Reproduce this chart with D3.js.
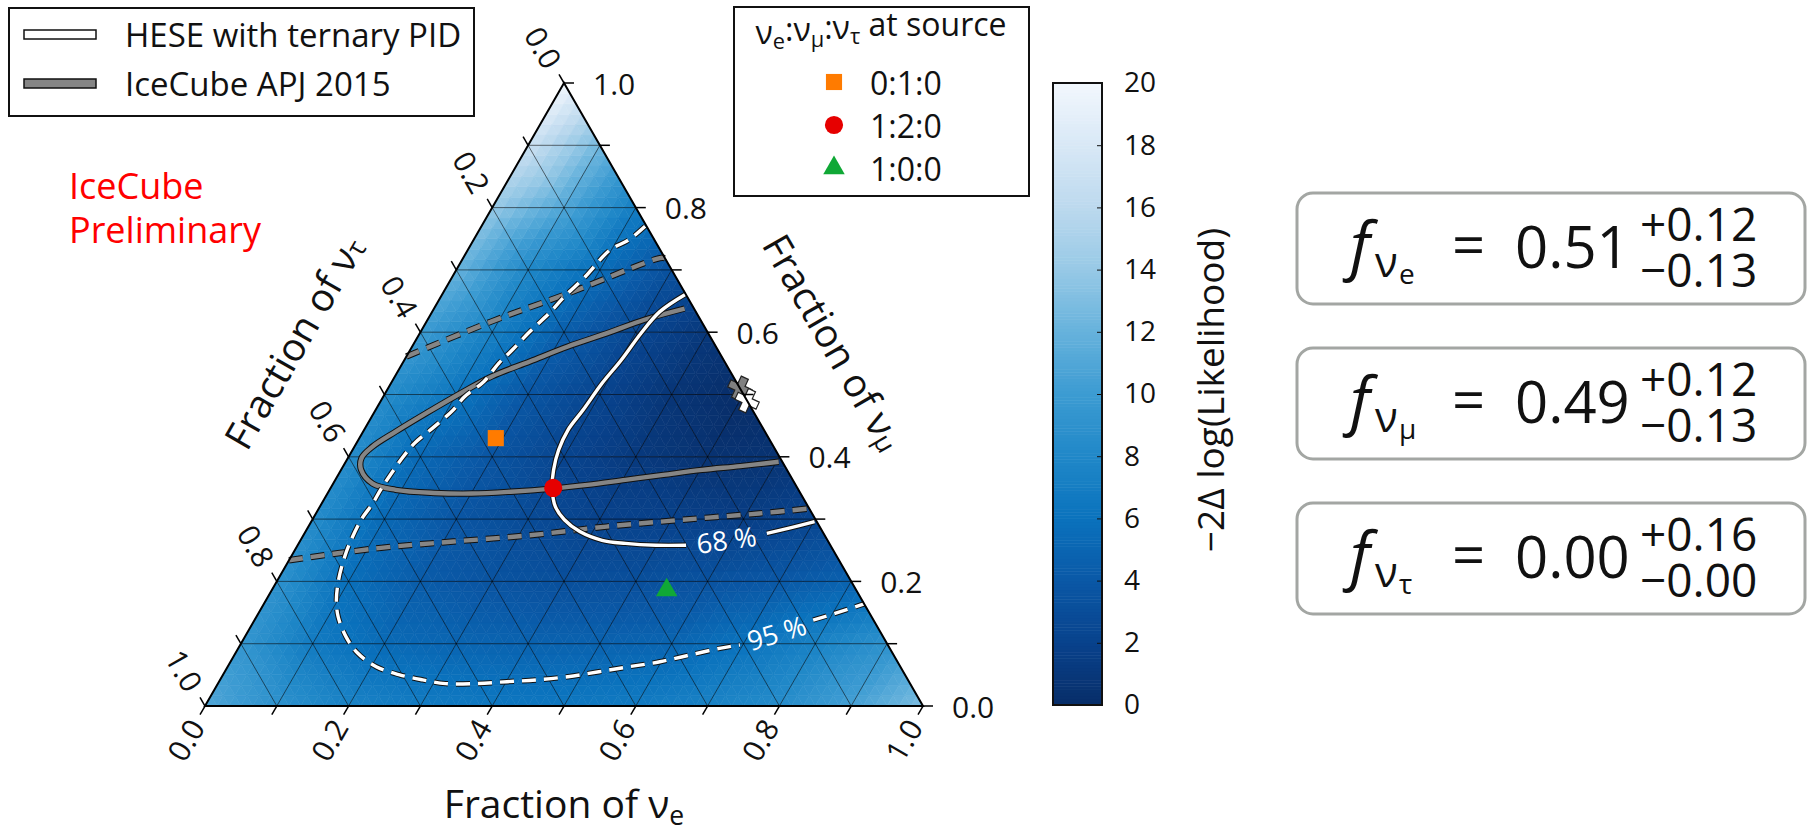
<!DOCTYPE html>
<html>
<head>
<meta charset="utf-8">
<script src="https://cdn.jsdelivr.net/npm/d3@7"></script>
<style>
body { margin:0; background:#fff; }
svg { display:block; font-family:"Open Sans", sans-serif; }
</style>
</head>
<body>
<svg id="chart" width="1812" height="835"></svg>
<script>
// ternary axis ticks (every 0.1) and labelled values (every 0.2)
const ternTicks = [0, 0.1, 0.2, 0.3, 0.4, 0.5, 0.6, 0.7, 0.8, 0.9, 1.0];
const ternLabelVals = [0, 0.2, 0.4, 0.6, 0.8, 1.0];

// -2 dLLH read at grid nodes; row = f_mu (0..1), entry = f_e (0..1-f_mu)
const llhRows = [
  [11, 9, 7.5, 6.8, 6.5, 6.5, 6.8, 7.5, 8.5, 10.5, 13],
  [9.5, 6.8, 5.4, 5.0, 4.8, 4.8, 5.0, 6.1, 7.5, 9],
  [9, 5.8, 4.3, 3.6, 3.2, 3.2, 3.5, 4.0, 4.8],
  [8.5, 5.3, 3.8, 2.8, 2.0, 1.9, 1.6, 2.2],
  [8.5, 5.3, 3.7, 2.2, 1.2, 0.5, 0.6],
  [8.5, 6.3, 3.8, 2.2, 0.8, 0.0],
  [10, 7.3, 4.5, 2.4, 1.0],
  [12, 8, 5.6, 3.3],
  [14, 11, 7],
  [17, 12.5],
  [20]
];

// colour bar
const cbarTicks = [0, 2, 4, 6, 8, 10, 12, 14, 16, 18, 20];
const cbarColors = ["#082d68","#08428c","#0a58a6","#0a72bd","#2088c8","#3c9bd2","#66b2dc","#97c9e6","#bcd9ee","#d8e8f6","#f2f7fd"];

// contours as [f_e, f_mu]; null = gap for the inline label
const hese68 = [[0.339,0.661],[0.317,0.633],[0.308,0.598],[0.302,0.555],[0.294,0.518],[0.289,0.475],
  [0.284,0.443],[0.287,0.411],[0.296,0.379],[0.309,0.349],[0.328,0.320],[0.351,0.299],[0.382,0.280],
  [0.420,0.266],[0.455,0.261],[0.499,0.258],[0.541,0.258],null,[0.644,0.277],[0.672,0.286],[0.701,0.296]];
const hese95 = [[0.228,0.770],[0.216,0.748],[0.198,0.732],[0.185,0.689],[0.172,0.657],[0.164,0.630],
  [0.152,0.601],[0.142,0.571],[0.134,0.550],[0.128,0.521],[0.113,0.496],[0.108,0.475],[0.095,0.448],
  [0.081,0.422],[0.076,0.400],[0.073,0.374],[0.071,0.347],[0.071,0.325],[0.068,0.299],[0.071,0.261],
  [0.076,0.234],[0.085,0.202],[0.098,0.170],[0.114,0.143],[0.141,0.111],[0.170,0.085],[0.207,0.063],
  [0.246,0.050],[0.282,0.042],[0.317,0.036],[0.359,0.036],[0.401,0.039],[0.442,0.042],[0.482,0.047],
  [0.521,0.055],[0.559,0.063],[0.598,0.071],[0.635,0.082],[0.672,0.093],[0.696,0.098],null,
  [0.778,0.138],[0.804,0.149],[0.836,0.164]];
const apj68 = [[0.349,0.638],[0.302,0.620],[0.260,0.598],[0.217,0.577],[0.176,0.553],[0.135,0.529],
  [0.105,0.502],[0.073,0.470],[0.045,0.440],[0.025,0.416],[0.019,0.398],[0.028,0.379],[0.055,0.357],
  [0.092,0.347],[0.148,0.342],[0.201,0.341],[0.254,0.344],[0.309,0.349],[0.355,0.355],[0.404,0.363],
  [0.453,0.371],[0.503,0.379],[0.553,0.385],[0.603,0.392]];
const apj95Upper = [[0.0,0.561],[0.090,0.617],[0.174,0.662],[0.274,0.719],[0.281,0.719]];
const apj95Lower = [[0.0,0.234],[0.112,0.253],[0.214,0.264],[0.315,0.274],[0.415,0.288],[0.516,0.299],[0.617,0.309],[0.683,0.317]];

// source compositions and their flavour ratio at Earth
const sourceRatios = ["0:1:0", "1:2:0", "1:0:0"];
const sourceAtEarth = [[0.19, 0.43], [0.31, 0.35], [0.55, 0.186]];
const sourceColors = ["#ff7b00", "#e60000", "#10a836"];
const sourceShapes = [d3.symbolSquare, d3.symbolCircle, d3.symbolTriangle];

// best fits
const heseBest = [0.51, 0.49];
const apjBest = [0.49, 0.51];

// fit results
const fitFlavours = ["e", "μ", "τ"];
const fitCentral = [0.51, 0.49, 0.00];
const fitUp = [0.12, 0.12, 0.16];
const fitDown = [0.13, 0.13, 0.00];

const svg = d3.select("#chart");
const xs = d3.scaleLinear().domain([0, 1]).range([205, 923]);
const ys = d3.scaleLinear().domain([0, 1]).range([706, 83]);
const pt = (fe, fm) => [xs(fe + fm / 2), ys(fm)];
const color = d3.scaleLinear().domain(cbarTicks).range(cbarColors).clamp(true);
const fmt1 = d3.format(".1f"), fmt2 = d3.format(".2f");

// heatmap: each 0.1 cell split in small triangles, shaded from its corner values
const N = 10, SUB = 6;
const nodeVal = (j, i) => llhRows[i][j];
const parents = [];
for (let i = 0; i < N; i++) {
  for (let j = 0; j < N - i; j++) {
    parents.push([[j, i], [j + 1, i], [j, i + 1]]);
    if (j < N - i - 1) parents.push([[j + 1, i], [j + 1, i + 1], [j, i + 1]]);
  }
}
const cells = [];
parents.forEach(p => {
  const [A, B, C] = p;
  const vA = nodeVal(...A), vB = nodeVal(...B), vC = nodeVal(...C);
  const at = (a, b) => {
    const wa = 1 - (a + b) / SUB, wb = a / SUB, wc = b / SUB;
    return { fe: (A[0] * wa + B[0] * wb + C[0] * wc) / N, fm: (A[1] * wa + B[1] * wb + C[1] * wc) / N,
             v: vA * wa + vB * wb + vC * wc };
  };
  for (let a = 0; a < SUB; a++) {
    for (let b = 0; a + b < SUB; b++) {
      cells.push([at(a, b), at(a + 1, b), at(a, b + 1)]);
      if (a + b < SUB - 1) cells.push([at(a + 1, b), at(a + 1, b + 1), at(a, b + 1)]);
    }
  }
});
svg.append("g").selectAll("path").data(cells).join("path")
  .attr("d", c => "M" + c.map(q => pt(q.fe, q.fm).join(",")).join("L") + "Z")
  .attr("fill", c => color(d3.mean(c, q => q.v)))
  .attr("stroke", c => color(d3.mean(c, q => q.v)))
  .attr("stroke-width", 0.6);

// grid
const inner = ternTicks.filter(t => t > 0 && t < 1);
const gridLines = [];
inner.forEach(k => {
  gridLines.push([pt(0, k), pt(1 - k, k)]);
  gridLines.push([pt(k, 0), pt(k, 1 - k)]);
  gridLines.push([pt(0, 1 - k), pt(1 - k, 0)]);
});
svg.append("g").selectAll("line").data(gridLines).join("line")
  .attr("x1", d => d[0][0]).attr("y1", d => d[0][1])
  .attr("x2", d => d[1][0]).attr("y2", d => d[1][1])
  .attr("stroke", "#000").attr("stroke-width", 0.8).attr("stroke-opacity", 0.7);

// contours
const line = d3.line().defined(d => d !== null)
  .x(d => xs(d[0] + d[1] / 2)).y(d => ys(d[1])).curve(d3.curveCatmullRom);
function contour(data, fill, dash) {
  const white = fill === "#fff";
  const g = svg.append("g").attr("fill", "none").attr("stroke-linecap", "butt");
  g.append("path").attr("d", line(data)).attr("stroke", "#111").attr("stroke-width", white ? 5.4 : 6.4)
    .attr("stroke-dasharray", dash);
  g.append("path").attr("d", line(data)).attr("stroke", fill).attr("stroke-width", white ? 3.4 : 4.4)
    .attr("stroke-dasharray", dash);
}
contour(apj95Upper, "#858585", "14,8");
contour(apj95Lower, "#858585", "14,8");
contour(apj68, "#858585", null);
contour(hese95, "#fff", "14,8");
contour(hese68, "#fff", null);

// inline contour labels
const mid = (a, b) => [(a[0] + b[0]) / 2, (a[1] + b[1]) / 2];
const gi68 = hese68.indexOf(null), gi95 = hese95.indexOf(null);
[[mid(hese68[gi68 - 1], hese68[gi68 + 1]), "68 %", -8], [mid(hese95[gi95 - 1], hese95[gi95 + 1]), "95 %", -17]]
  .forEach(([p, txt, rot]) => {
    const [x, y] = pt(p[0], p[1]);
    svg.append("text").attr("transform", `translate(${x},${y}) rotate(${rot})`)
      .attr("text-anchor", "middle").attr("dominant-baseline", "central")
      .attr("font-size", 27).attr("fill", "#fff").text(txt);
  });

// source markers
svg.append("g").selectAll("path").data(sourceAtEarth).join("path")
  .attr("transform", d => `translate(${pt(d[0], d[1]).join(",")})`)
  .attr("d", (d, i) => d3.symbol(sourceShapes[i], i === 2 ? 200 : 260)())
  .attr("fill", (d, i) => sourceColors[i]);

// best-fit crosses
[[apjBest, "#808080"], [heseBest, "#fff"]].forEach(([b, c]) => {
  svg.append("path").attr("transform", `translate(${pt(b[0], b[1]).join(",")}) rotate(25)`)
    .attr("d", d3.symbol(d3.symbolCross, 300)())
    .attr("fill", c).attr("stroke", "#222").attr("stroke-width", 1.2);
});

// triangle frame
svg.append("path").attr("d", "M" + [pt(0, 0), pt(1, 0), pt(0, 1)].map(p => p.join(",")).join("L") + "Z")
  .attr("fill", "none").attr("stroke", "#000").attr("stroke-width", 2);

// ternary axes
const tAxes = [
  { at: t => pt(t, 0), dir: [-0.5, 0.866], rot: -60, pad: 8 },
  { at: t => pt(1 - t, t), dir: [1, 0], rot: 0, pad: 19 },
  { at: t => pt(0, 1 - t), dir: [-0.5, -0.866], rot: 60, pad: 10 }
];
tAxes.forEach(ax => {
  const g = svg.append("g");
  g.selectAll("line").data(ternTicks).join("line")
    .attr("x1", t => ax.at(t)[0]).attr("y1", t => ax.at(t)[1])
    .attr("x2", t => ax.at(t)[0] + 10 * ax.dir[0]).attr("y2", t => ax.at(t)[1] + 10 * ax.dir[1])
    .attr("stroke", "#000").attr("stroke-width", 1.5);
  g.selectAll("text").data(ternLabelVals).join("text")
    .attr("transform", t => {
      const p = ax.at(t), L = 10 + ax.pad;
      return `translate(${p[0] + L * ax.dir[0]},${p[1] + L * ax.dir[1]}) rotate(${ax.rot})`;
    })
    .attr("text-anchor", ax.rot === 0 ? "start" : "end")
    .attr("dominant-baseline", "central")
    .attr("font-size", 30).attr("fill", "#111").text(fmt1);
});

// axis titles
function nuTitle(sel, flav) {
  sel.append("tspan").text("Fraction of ν");
  sel.append("tspan").attr("font-size", "0.68em").attr("dy", "0.28em").text(flav);
}
nuTitle(svg.append("text").attr("x", xs(0.5)).attr("y", 818).attr("text-anchor", "middle")
  .attr("font-size", 39).attr("fill", "#111"), "e");
const midR = pt(0.5, 0.5), midL = pt(0, 0.5);
nuTitle(svg.append("text")
  .attr("transform", `translate(${midR[0] + 106 * 0.866},${midR[1] - 106 * 0.5}) rotate(60)`)
  .attr("text-anchor", "middle").attr("dominant-baseline", "central")
  .attr("font-size", 39).attr("fill", "#111"), "μ");
nuTitle(svg.append("text")
  .attr("transform", `translate(${midL[0] - 106 * 0.866},${midL[1] - 106 * 0.5}) rotate(-60)`)
  .attr("text-anchor", "middle").attr("dominant-baseline", "central")
  .attr("font-size", 39).attr("fill", "#111"), "τ");

// IceCube Preliminary
svg.append("text").attr("x", 69).attr("y", 199).attr("font-size", 36).attr("fill", "#ff0000").text("IceCube");
svg.append("text").attr("x", 69).attr("y", 243).attr("font-size", 36).attr("fill", "#ff0000").text("Preliminary");

// legend: contours
const leg1 = svg.append("g");
leg1.append("rect").attr("x", 9).attr("y", 8).attr("width", 465).attr("height", 108)
  .attr("fill", "#fff").attr("stroke", "#111").attr("stroke-width", 2);
[["HESE with ternary PID", "#fff", 47], ["IceCube APJ 2015", "#858585", 96]].forEach(([txt, c, y]) => {
  leg1.append("rect").attr("x", 24).attr("y", y - 17).attr("width", 72).attr("height", 9)
    .attr("fill", c).attr("stroke", "#111").attr("stroke-width", 1.5);
  leg1.append("text").attr("x", 125).attr("y", y).attr("font-size", 33).attr("fill", "#111").text(txt);
});

// legend: source ratios
const leg2 = svg.append("g");
leg2.append("rect").attr("x", 734).attr("y", 7).attr("width", 295).attr("height", 189)
  .attr("fill", "#fff").attr("stroke", "#111").attr("stroke-width", 2);
const ttl = leg2.append("text").attr("x", 881).attr("y", 44).attr("text-anchor", "middle")
  .attr("font-size", 32).attr("fill", "#111");
["e", "μ", "τ"].forEach((f, i) => {
  ttl.append("tspan").attr("dy", i ? "-0.25em" : 0).text((i ? ":" : "") + "ν");
  ttl.append("tspan").attr("font-size", "0.68em").attr("dy", "0.25em").text(f);
});
ttl.append("tspan").attr("dy", "-0.25em").text(" at source");
sourceRatios.forEach((r, i) => {
  const y = 82 + i * 43;
  leg2.append("path").attr("transform", `translate(834,${y})`)
    .attr("d", d3.symbol(sourceShapes[i], i === 2 ? 200 : 260)()).attr("fill", sourceColors[i]);
  leg2.append("text").attr("x", 870).attr("y", y).attr("dominant-baseline", "central")
    .attr("font-size", 32).attr("fill", "#111").text(r);
});

// colour bar
const cy = d3.scaleLinear().domain([0, 20]).range([705, 83]);
const cbar = svg.append("g");
cbar.selectAll("rect").data(d3.range(0, 20, 0.1)).join("rect")
  .attr("x", 1053).attr("width", 49)
  .attr("y", v => cy(v + 0.1)).attr("height", v => cy(v) - cy(v + 0.1) + 0.5)
  .attr("fill", v => color(v + 0.05));
cbar.append("rect").attr("x", 1053).attr("y", 83).attr("width", 49).attr("height", 622)
  .attr("fill", "none").attr("stroke", "#111").attr("stroke-width", 2);
const cax = cbar.append("g").attr("transform", "translate(1102,0)")
  .call(d3.axisRight(cy).tickValues(cbarTicks).tickSize(-5).tickPadding(22).tickFormat(d3.format("d")));
cax.select(".domain").remove();
cax.selectAll("text").attr("font-size", 28).attr("font-family", "Open Sans").attr("fill", "#111");
cax.selectAll("line").attr("stroke", "#111");
svg.append("text").attr("transform", "translate(1209,390) rotate(-90)")
  .attr("text-anchor", "middle").attr("dominant-baseline", "central")
  .attr("font-size", 37).attr("fill", "#111").text("−2Δ log(Likelihood)");

// fit result boxes: the whole formula is one text element
fitFlavours.forEach((fl, i) => {
  const g = svg.append("g").attr("transform", `translate(0,${193 + i * 155})`);
  g.append("rect").attr("x", 1297).attr("y", 0).attr("width", 508).attr("height", 111).attr("rx", 16)
    .attr("fill", "#fff").attr("stroke", "#a3a6a3").attr("stroke-width", 3);
  const t = g.append("text").attr("fill", "#111");
  t.append("tspan").attr("x", 1350).attr("y", 75).attr("font-style", "italic").attr("font-size", 64).text("f");
  t.append("tspan").attr("x", 1375).attr("y", 84).attr("font-size", 42).text("ν");
  t.append("tspan").attr("x", 1399).attr("y", 91).attr("font-size", 28).text(fl);
  t.append("tspan").attr("x", 1452).attr("y", 73).attr("font-size", 58).text("=");
  t.append("tspan").attr("x", 1515).attr("y", 75).attr("font-size", 58).text(fmt2(fitCentral[i]));
  t.append("tspan").attr("x", 1640).attr("y", 48).attr("font-size", 46).text("+" + fmt2(fitUp[i]));
  t.append("tspan").attr("x", 1640).attr("y", 94).attr("font-size", 46).text("−" + fmt2(fitDown[i]));
});
</script>
</body>
</html>
